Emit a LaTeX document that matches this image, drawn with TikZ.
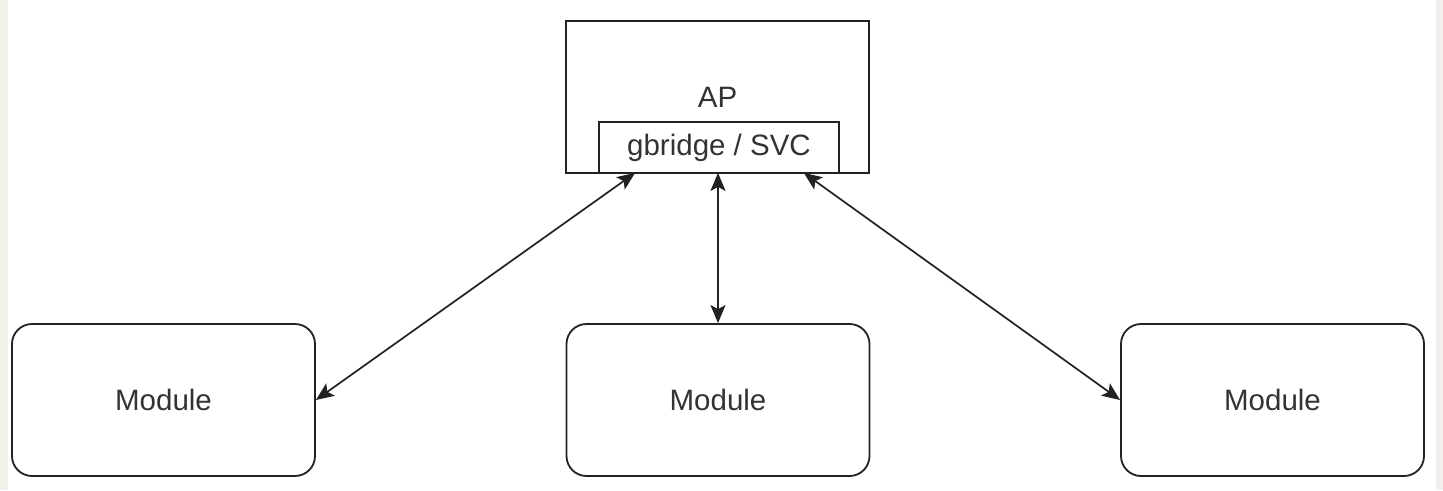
\documentclass[tikz,border=0pt]{standalone}
\usepackage{fontspec}
\setmainfont{Liberation Sans}
\usetikzlibrary{arrows.meta}
\definecolor{edge}{HTML}{222222}
\definecolor{txt}{HTML}{333333}
\definecolor{bgside}{HTML}{F3F0EB}
\begin{document}
\begin{tikzpicture}[x=1pt,y=-1pt,
  box/.style={draw=edge,line width=1.8pt,fill=white,text=txt,inner sep=0pt,
    font=\fontsize{29.5}{34}\selectfont},
  modbox/.style={box,rounded corners=20pt,minimum width=303pt,minimum height=152pt},
  link/.style={draw=edge,line width=1.7pt,{Stealth[length=18pt,width=15pt,inset=4pt]}-{Stealth[length=18pt,width=15pt,inset=4pt]}}]
\useasboundingbox (0,0) rectangle (1443,490);
\fill[white] (0,0) rectangle (1443,490);
\fill[bgside] (0,0) rectangle (8,490);
\fill[bgside] (1436,0) rectangle (1443,490);
\node[box,minimum width=303pt,minimum height=152pt] (ap) at (717.5,97) {AP};
\node[box,minimum width=240pt,minimum height=51pt] (svc) at (719,147.5) {gbridge / SVC};
\node[modbox] (m1) at (163.5,400) {Module};
\node[modbox] (m2) at (718,400) {Module};
\node[modbox] (m3) at (1272.5,400) {Module};
\draw[link] ([xshift=37pt,yshift=1pt]svc.south west) -- (m1.east);
\draw[link] ([yshift=1pt]svc.south -| m2.north) -- (m2.north);
\draw[link] ([xshift=-36pt,yshift=1pt]svc.south east) -- (m3.west);
\end{tikzpicture}
\end{document}
